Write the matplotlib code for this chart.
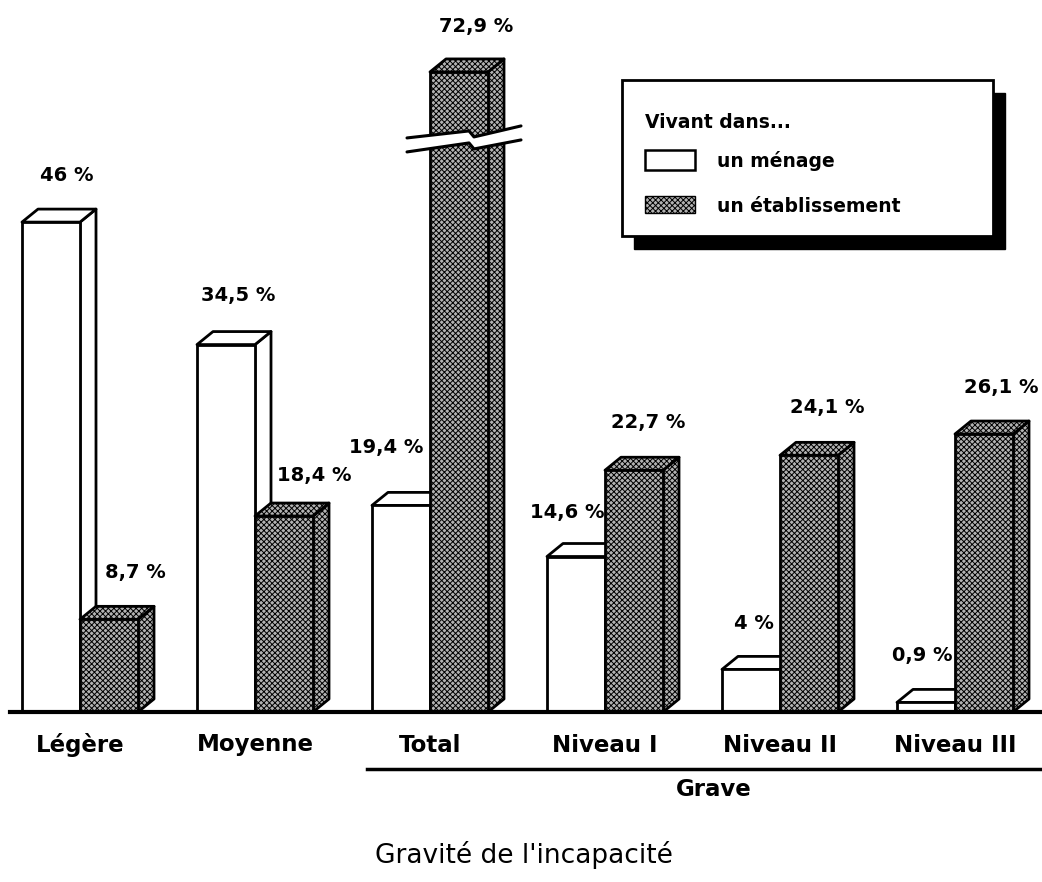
import matplotlib.pyplot as plt
from matplotlib.patches import Polygon, Rectangle
import numpy as np

# data
categories = ['Légère', 'Moyenne', 'Total', 'Niveau I', 'Niveau II', 'Niveau III']
menage = [46.0, 34.5, 19.4, 14.6, 4.0, 0.9]
etablissement = [8.7, 18.4, 72.9, 22.7, 24.1, 26.1]
lab_menage = ['46 %', '34,5 %', '19,4 %', '14,6 %', '4 %', '0,9 %']
lab_etab = ['8,7 %', '18,4 %', '72,9 %', '22,7 %', '24,1 %', '26,1 %']

# look
PX_X = 175.0       # pixels per category unit
PX_Y = 10.65       # pixels per percent
W = 58 / PX_X      # bar width
DX = 16 / PX_X     # depth offset x
DY = 13 / PX_Y     # depth offset y
BREAK_AT = 60.0    # values above this get a broken bar
SHOW_TOP = 60.1    # displayed height of broken bar
DARK = '#b2b2b2'
FONT = 'DejaVu Sans'
plt.rcParams['hatch.linewidth'] = 0.7

# label nudges in pixels (dx, dy) relative to bar centre / back top
nudge_m = [(16, 0), (12, 2), (-15, 11), (-9, -3), (3, -1), (-4, 0)]
nudge_e = [(26, 0), (30, -6), (17, -2), (14, 1), (18, 1), (17, 0)]

fig = plt.figure(figsize=(10.42, 8.82), dpi=100)
ax = fig.add_axes([0, 0, 1, 1])
ax.set_xlim(-80 / PX_X, 962 / PX_X)
ax.set_ylim(-170 / PX_Y, 712 / PX_Y)
ax.axis('off')


def box(x0, h, face, hatch=None, z=2):
    pts_front = [(x0, 0), (x0 + W, 0), (x0 + W, h), (x0, h)]
    pts_top = [(x0, h), (x0 + DX, h + DY), (x0 + W + DX, h + DY), (x0 + W, h)]
    pts_side = [(x0 + W, 0), (x0 + W + DX, DY), (x0 + W + DX, h + DY), (x0 + W, h)]
    for pts in (pts_side, pts_top, pts_front):
        p = Polygon(pts, closed=True, facecolor=face, edgecolor='black',
                    lw=2, hatch=hatch, joinstyle='round', zorder=z)
        ax.add_patch(p)


x = np.arange(len(categories))
for i in x:
    # white bar (menage)
    hm = menage[i]
    box(i - W, hm, 'white', z=2)
    ax.text(i - W / 2 + nudge_m[i][0] / PX_X, hm + DY + (34 + nudge_m[i][1]) / PX_Y,
            lab_menage[i], ha='center', va='center', fontsize=14,
            fontweight='bold', family=FONT, zorder=10)
    # dark bar (etablissement)
    he = etablissement[i]
    hd = SHOW_TOP if he > BREAK_AT else he
    box(i, hd, DARK, hatch='xxxxxx', z=3)
    ax.text(i + W / 2 + nudge_e[i][0] / PX_X, hd + DY + (34 + nudge_e[i][1]) / PX_Y,
            lab_etab[i], ha='center', va='center', fontsize=14,
            fontweight='bold', family=FONT, zorder=10)
    if he > BREAK_AT:
        # break marker across the bar
        bx = np.array([-23, 39, 44, 91]) / PX_X + i
        up = hd - np.array([66, 59, 65, 54]) / PX_Y
        lo = hd - np.array([80, 71, 77, 68]) / PX_Y
        band = Polygon(list(zip(bx, up)) + list(zip(bx[::-1], lo[::-1])),
                       closed=True, facecolor='white', edgecolor='none', zorder=5)
        ax.add_patch(band)
        ax.plot(bx, up, color='black', lw=2.2, zorder=6, solid_capstyle='round')
        ax.plot(bx, lo, color='black', lw=2.2, zorder=6, solid_capstyle='round')

# baseline
ax.plot([-70 / PX_X, 962 / PX_X], [0, 0], color='black', lw=3, zorder=4)

# category labels
for i, c in enumerate(categories):
    ax.text(i, -33 / PX_Y, c, ha='center', va='center', fontsize=16.5,
            fontweight='bold', family=FONT)

# "Grave" group
ax.plot([2 - W - 0.03, 962 / PX_X], [-57 / PX_Y, -57 / PX_Y], color='black', lw=2.5)
ax.text((2 + 5) / 2 + 0.12, -78 / PX_Y, 'Grave', ha='center', va='center', fontsize=16.5,
        fontweight='bold', family=FONT)

# axis title
fig.text(0.503, 0.031, "Gravité de l'incapacité", ha='center', va='center',
         fontsize=19, family=FONT)

# legend box with shadow
fig.patches.append(Rectangle((0.6085, 0.718), 0.356, 0.177, transform=fig.transFigure,
                             facecolor='black', edgecolor='black', zorder=5))
fig.patches.append(Rectangle((0.597, 0.732), 0.356, 0.177, transform=fig.transFigure,
                             facecolor='white', edgecolor='black', lw=2, zorder=6))
fig.text(0.619, 0.861, 'Vivant dans...', ha='left', va='center', fontsize=13.5,
         fontweight='bold', family=FONT, zorder=7)
fig.patches.append(Rectangle((0.619, 0.807), 0.048, 0.023, transform=fig.transFigure,
                             facecolor='white', edgecolor='black', lw=1.8, zorder=7))
fig.patches.append(Rectangle((0.619, 0.758), 0.048, 0.020, transform=fig.transFigure,
                             facecolor=DARK, edgecolor='black', lw=1, hatch='xxxxxx', zorder=7))
fig.text(0.688, 0.818, 'un ménage', ha='left', va='center', fontsize=13.5,
         fontweight='bold', family=FONT, zorder=7)
fig.text(0.688, 0.766, 'un établissement', ha='left', va='center', fontsize=13.5,
         fontweight='bold', family=FONT, zorder=7)

plt.savefig('out.png', dpi=100)
